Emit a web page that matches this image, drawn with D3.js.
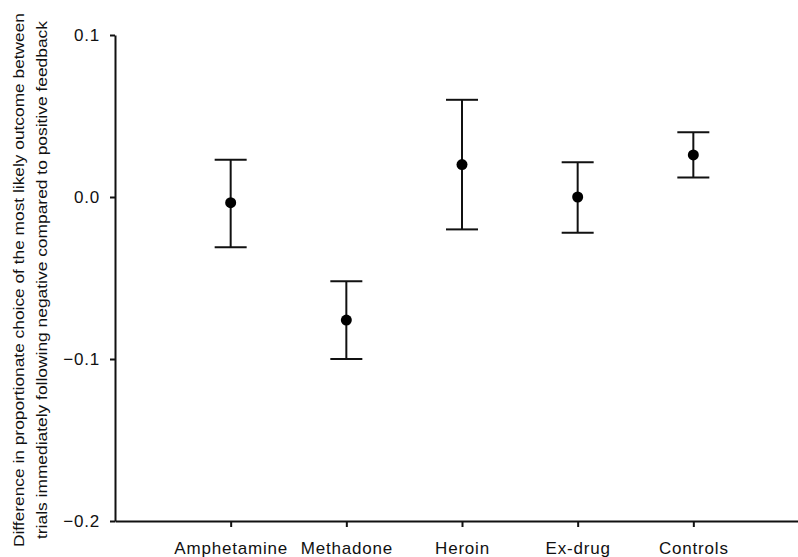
<!DOCTYPE html>
<html>
<head>
<meta charset="utf-8">
<script src="https://d3js.org/d3.v7.min.js"></script>
<style>
  body { margin: 0; background: #fff; }
  text { font-family: "Liberation Sans", Arial, sans-serif; fill: #111; }
</style>
</head>
<body>
<div id="chart"></div>
<script>
// Data
const groups = ["Amphetamine", "Methadone", "Heroin", "Ex-drug", "Controls"];
const means  = [-0.0035, -0.076, 0.020, 0.000, 0.026];
const upper  = [0.023, -0.052, 0.060, 0.0215, 0.040];
const lower  = [-0.031, -0.100, -0.020, -0.022, 0.012];
const yTicks = [0.1, 0.0, -0.1, -0.2];
const yLabel = [
  "Difference in proportionate choice of the most likely outcome between",
  "trials immediately following negative compared to positive feedback"
];

const width = 798, height = 557;
const padLeft = 115, padTop = 35, axisBottomY = 521;

const svg = d3.select("#chart").append("svg")
  .attr("width", width)
  .attr("height", height);

const x = d3.scalePoint()
  .domain(groups)
  .range([padLeft, 809])
  .padding(1);

const y = d3.scaleLinear()
  .domain([-0.2, 0.1])
  .range([axisBottomY, padTop]);

// axes
const xAxis = svg.append("g")
  .attr("transform", `translate(0,${axisBottomY})`)
  .call(d3.axisBottom(x).tickSize(6).tickSizeOuter(0).tickPadding(15));

const yAxis = svg.append("g")
  .attr("transform", `translate(${padLeft},0)`)
  .call(d3.axisLeft(y).tickValues(yTicks).tickFormat(d3.format(".1f")).tickSize(5).tickSizeOuter(0).tickPadding(10));

[xAxis, yAxis].forEach(g => {
  g.select(".domain").attr("stroke", "#111").attr("stroke-width", 2);
  g.selectAll(".tick line").attr("stroke", "#111").attr("stroke-width", 2);
  g.selectAll(".tick text")
    .attr("fill", "#111")
    .style("font-size", "17px")
    .style("letter-spacing", "0.8px")
    .style("font-family", "'Liberation Sans', Arial, sans-serif");
});

// error bars
const capW = 16;
const bars = svg.append("g")
  .selectAll("g")
  .data(groups)
  .enter().append("g");

bars.append("line")
  .attr("x1", d => x(d)).attr("x2", d => x(d))
  .attr("y1", (d, i) => y(upper[i])).attr("y2", (d, i) => y(lower[i]))
  .attr("stroke", "#111").attr("stroke-width", 2);

bars.append("line")
  .attr("x1", d => x(d) - capW).attr("x2", d => x(d) + capW)
  .attr("y1", (d, i) => y(upper[i])).attr("y2", (d, i) => y(upper[i]))
  .attr("stroke", "#111").attr("stroke-width", 2);

bars.append("line")
  .attr("x1", d => x(d) - capW).attr("x2", d => x(d) + capW)
  .attr("y1", (d, i) => y(lower[i])).attr("y2", (d, i) => y(lower[i]))
  .attr("stroke", "#111").attr("stroke-width", 2);

bars.append("circle")
  .attr("cx", d => x(d))
  .attr("cy", (d, i) => y(means[i]))
  .attr("r", 5.5)
  .attr("fill", "#000");

// y label, two rotated lines
const midY = 280;
svg.append("text")
  .attr("transform", `translate(24,${midY}) rotate(-90)`)
  .attr("text-anchor", "middle")
  .attr("textLength", 534)
  .attr("lengthAdjust", "spacingAndGlyphs")
  .style("font-size", "15px")
  .text(yLabel[0]);

svg.append("text")
  .attr("transform", `translate(47,${midY}) rotate(-90)`)
  .attr("text-anchor", "middle")
  .attr("textLength", 518)
  .attr("lengthAdjust", "spacingAndGlyphs")
  .style("font-size", "15px")
  .text(yLabel[1]);
</script>
</body>
</html>
